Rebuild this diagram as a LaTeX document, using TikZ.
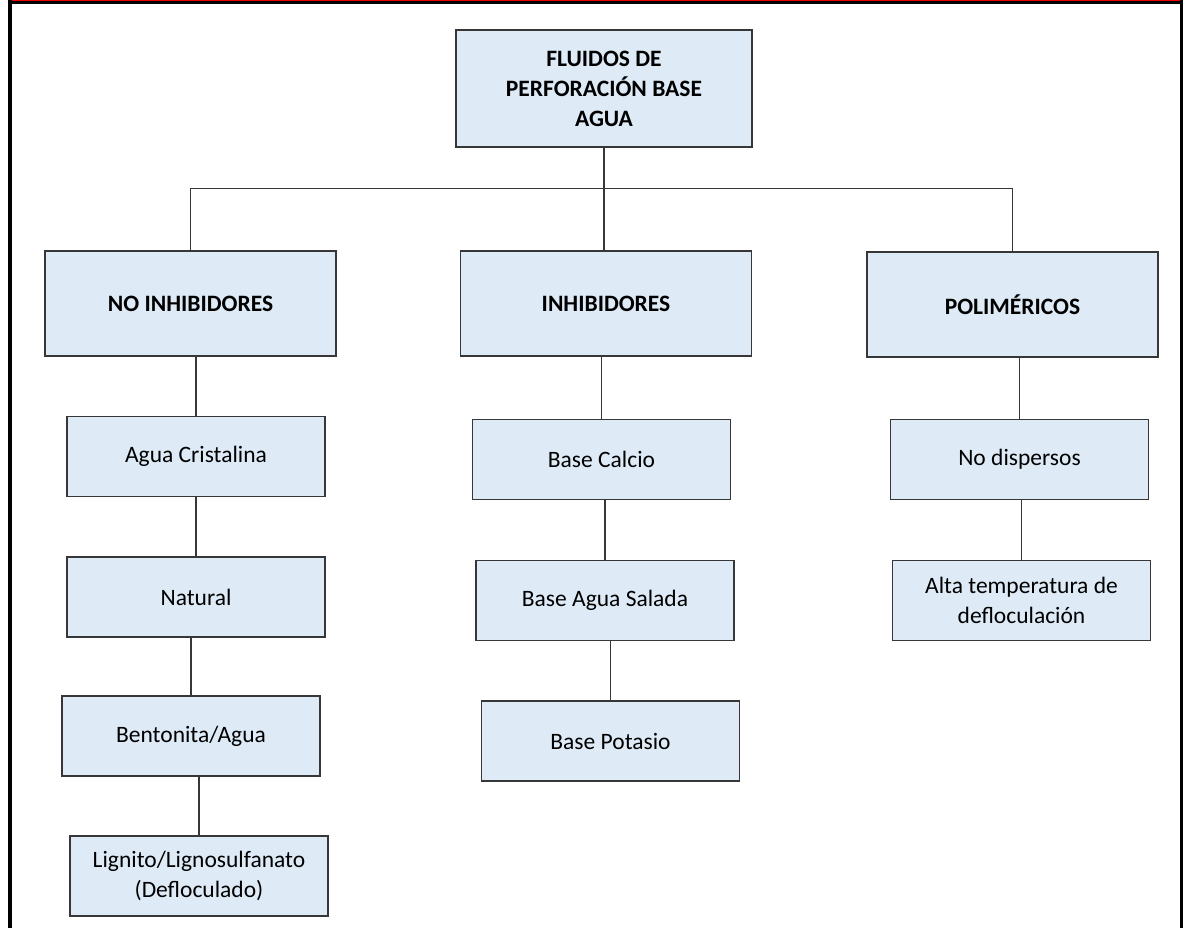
\documentclass[tikz,border=0pt]{standalone}
\usepackage{fontspec}
\setmainfont{Carlito}
\usepackage{xcolor}
\usepackage{tikz}
\usetikzlibrary{positioning}

\definecolor{cajaazul}{RGB}{222,235,247}
\definecolor{bordecaja}{RGB}{55,55,55}
\definecolor{rojomarco}{RGB}{237,0,0}

\tikzset{
  caja/.style={draw=bordecaja, line width=1.3pt, fill=cajaazul, align=center,
    inner sep=0pt, font=\fontsize{23.5}{30}\selectfont},
  principal/.style={caja, minimum width=296pt, minimum height=117pt,
    font=\fontsize{23.5}{30}\selectfont\bfseries},
  tipo/.style={caja, minimum width=291pt, minimum height=105pt,
    font=\fontsize{23.5}{30}\selectfont\bfseries},
  subtipo/.style={caja, minimum width=258pt, minimum height=80pt},
  linea/.style={draw=bordecaja, line width=1.3pt}
}

\begin{document}
\begin{tikzpicture}[x=1pt,y=1pt,on grid]
       \useasboundingbox (0,0) rectangle (1183,-928);

       % Marco
       \fill[rojomarco] (8,0) rectangle (1183,-1.4);
       \fill[black] (8,-1.4) rectangle (1183,-4.4);
       \fill[black] (8,0) rectangle (12.3,-928);
       \fill[black] (1180.3,0) rectangle (1183,-928);

       \node[principal] (fluidos) at (604,-88.5) {FLUIDOS DE\\PERFORACIÓN BASE\\AGUA};

       % Tipos de fluido
       \node[tipo] (noinh) [below left=215pt and 413.5pt of fluidos] {NO INHIBIDORES};
       \node[tipo] (inh) [below right=215pt and 2pt of fluidos] {INHIBIDORES};
       \node[tipo] (polim) [below right=216pt and 408.5pt of fluidos] {POLIMÉRICOS};

       % Rama no inhibidores
       \node[subtipo] (cristal) [below right=153pt and 5.5pt of noinh] {Agua Cristalina};
       \node[subtipo] (natural) [below=140.5pt of cristal] {Natural};
       \node[subtipo] (bento) [below left=139pt and 5pt of natural] {Bentonita/Agua};
       \node[subtipo] (lignito) [below right=140pt and 8pt of bento] {Lignito/Lignosulfanato\\(Defloculado)};

       % Rama inhibidores
       \node[subtipo] (calcio) [below left=156pt and 4.5pt of inh] {Base Calcio};
       \node[subtipo] (salada) [below right=141pt and 3.5pt of calcio] {Base Agua Salada};
       \node[subtipo] (potasio) [below right=140.5pt and 5.5pt of salada] {Base Potasio};

       % Rama polimericos
       \node[subtipo] (nodisp) [below right=155pt and 7pt of polim] {No dispersos};
       \node[subtipo] (alta) [below right=141pt and 2pt of nodisp] {Alta temperatura de\\defloculación};

       \draw[linea]
       (noinh.north) -- ++(0,62) -| (polim.north)
       (fluidos.south) -- (fluidos.south |- inh.north)

       (cristal.north) -- (cristal.north |- noinh.south)
       (natural.north) -- (natural.north |- cristal.south)
       (bento.north) -- (bento.north |- natural.south)
       (lignito.north) -- (lignito.north |- bento.south)

       (calcio.north) -- (calcio.north |- inh.south)
       (salada.north) -- (salada.north |- calcio.south)
       (potasio.north) -- (potasio.north |- salada.south)

       (nodisp.north) -- (nodisp.north |- polim.south)
       (alta.north) -- (alta.north |- nodisp.south);
    \end{tikzpicture}
\end{document}
